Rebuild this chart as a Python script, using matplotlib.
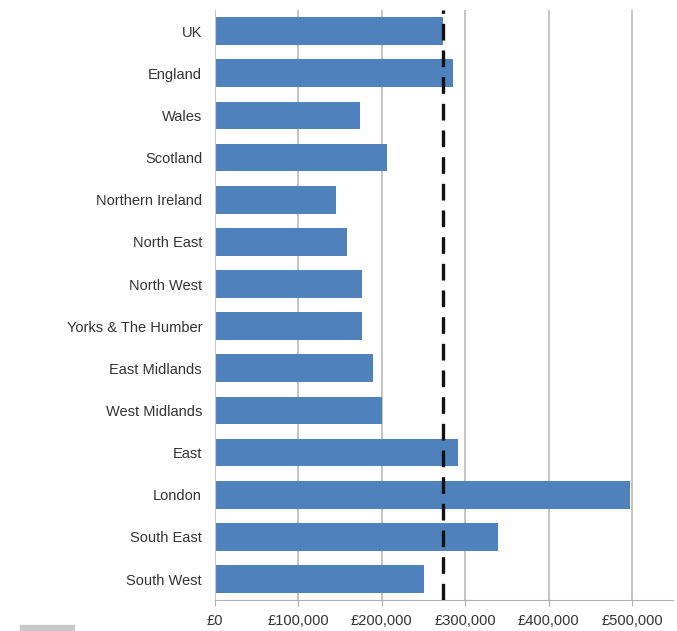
import matplotlib.pyplot as plt
from matplotlib.patches import Rectangle

# Average house prices by region
regions = [
    "UK", "England", "Wales", "Scotland", "Northern Ireland", "North East",
    "North West", "Yorks & The Humber", "East Midlands", "West Midlands",
    "East", "London", "South East", "South West",
]
prices = [
    274000, 285000, 174000, 206000, 146000, 158000,
    177000, 177000, 190000, 201000,
    292000, 498000, 340000, 251000,
]
uk_average = 274000
tick_values = [0, 100000, 200000, 300000, 400000, 500000]
tick_labels = ["£0", "£100,000", "£200,000", "£300,000", "£400,000", "£500,000"]

plt.rcParams["font.family"] = ["Liberation Sans", "DejaVu Sans"]

fig = plt.figure(figsize=(6.77, 6.31), dpi=100)
ax = fig.add_axes([0.317, 0.049, 0.677, 0.935])

y = list(range(len(regions)))
ax.barh(y, prices, height=0.66, color="#4F81BD", zorder=2)

# UK average marker line
ax.axvline(uk_average, color="#111111", linewidth=2.4,
           linestyle=(0, (5, 3)), zorder=3)

ax.set_ylim(len(regions) - 0.5, -0.5)
ax.set_xlim(0, 549000)
ax.set_yticks(y)
ax.set_yticklabels(regions, fontsize=10.5, color="#333333")
ax.set_xticks(tick_values)
ax.set_xticklabels(tick_labels, fontsize=10.5, color="#333333")

ax.grid(axis="x", color="#C4C4C4", linewidth=1.4, zorder=0)
ax.tick_params(axis="y", length=0, pad=9)
ax.tick_params(axis="x", length=4, color="#B0B0B0", pad=6)

for side in ["top", "right"]:
    ax.spines[side].set_visible(False)
ax.spines["bottom"].set_color("#B0B0B0")
ax.spines["left"].set_color("#C8C8C8")

# small grey strip at lower left corner
fig.patches.append(Rectangle((0.03, 0.0), 0.08, 0.009, transform=fig.transFigure,
                             color="#C8C8C8", figure=fig))

fig.savefig("out.png", dpi=100)
